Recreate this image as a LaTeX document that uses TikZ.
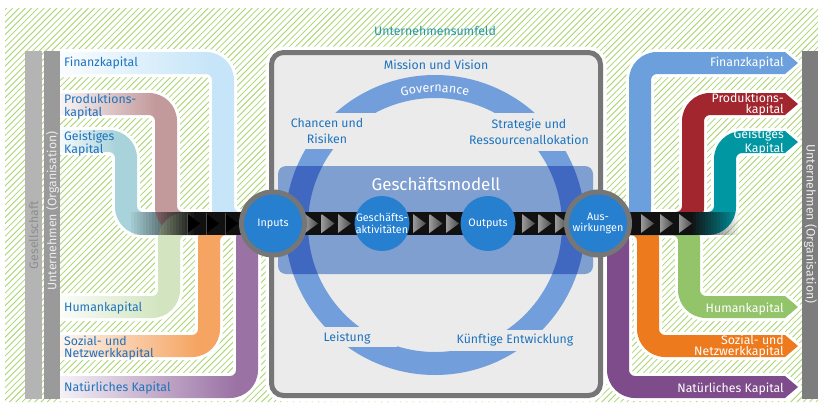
\documentclass[tikz,border=0pt]{standalone}
\usepackage{fontspec}
\setmainfont{Fira Sans}
\usetikzlibrary{decorations.text}
\definecolor{hatch}{HTML}{A9D46E}
\definecolor{lblue}{HTML}{1E73BE}
\definecolor{umfeld}{HTML}{2596AD}
\definecolor{boxgray}{HTML}{767676}
\definecolor{boxbg}{HTML}{EBEBEB}
\definecolor{barA}{HTML}{B4B4B4}
\definecolor{barB}{HTML}{9A9A9A}
\definecolor{barC}{HTML}{7D7D7D}
\definecolor{barAtext}{HTML}{8E8E8E}
\definecolor{bartext}{HTML}{ECECEC}
\definecolor{ringc}{HTML}{729FDC}
\definecolor{rectc}{HTML}{7F9FD0}
\definecolor{overc}{HTML}{4068C0}
\definecolor{circc}{HTML}{2680CF}
\definecolor{flowc}{HTML}{111111}
\definecolor{triA}{HTML}{9A9A9A}
\definecolor{triB}{HTML}{4A4A4A}
\definecolor{LFin}{HTML}{C6E5F8}
\definecolor{LPro}{HTML}{C39A9C}
\definecolor{LGei}{HTML}{A9D3DA}
\definecolor{LHum}{HTML}{D2E5C0}
\definecolor{LSoz}{HTML}{F5A462}
\definecolor{LNat}{HTML}{9A72A4}
\definecolor{RFin}{HTML}{6CA0DC}
\definecolor{RPro}{HTML}{A1262D}
\definecolor{RGei}{HTML}{0097A3}
\definecolor{RHum}{HTML}{93C46A}
\definecolor{RSoz}{HTML}{EE7A1E}
\definecolor{RNat}{HTML}{7E4C8B}
% pipe outlines: #1 = left x of vertical part, #2 = top y of arm
\newcommand\LTpath[2]{(60,#2) -- ({#1+22-28},#2) arc[start angle=270,end angle=360,radius=28] -- ({#1+22},206) arc[start angle=180,end angle=90,radius=6] -- (270,212) -- (270,235) -- ({#1+28},235) arc[start angle=90,end angle=180,radius=28] -- (#1,{#2+28}) arc[start angle=0,end angle=-90,radius=6] -- (60,{#2+22}) -- cycle}
\newcommand\LBpath[2]{(60,{#2+22}) -- ({#1+22-28},{#2+22}) arc[start angle=90,end angle=0,radius=28] -- ({#1+22},241) arc[start angle=180,end angle=270,radius=6] -- (270,235) -- (270,212) -- ({#1+28},212) arc[start angle=270,end angle=180,radius=28] -- (#1,{#2-6}) arc[start angle=0,end angle=90,radius=6] -- (60,#2) -- cycle}
\newcommand\RTpath[2]{(595,235) -- ({#1+22-28},235) arc[start angle=90,end angle=0,radius=28] -- ({#1+22},{#2+28}) arc[start angle=180,end angle=270,radius=6] -- (785,{#2+22}) -- (798,{#2+11}) -- (785,#2) -- ({#1+28},#2) arc[start angle=270,end angle=180,radius=28] -- (#1,206) arc[start angle=0,end angle=90,radius=6] -- (595,212) -- cycle}
\newcommand\RBpath[2]{(595,212) -- ({#1+22-28},212) arc[start angle=270,end angle=360,radius=28] -- ({#1+22},{#2-6}) arc[start angle=180,end angle=90,radius=6] -- (785,#2) -- (798,{#2+11}) -- (785,{#2+22}) -- ({#1+28},{#2+22}) arc[start angle=90,end angle=180,radius=28] -- (#1,241) arc[start angle=0,end angle=-90,radius=6] -- (595,235) -- cycle}
\newcommand\LTfill[3]{\begin{scope}\clip \LTpath{#1}{#2}; \shade[left color=#3!10, right color=#3] (60,0) rectangle (#1,402); \fill[#3] (#1,0) rectangle (280,402);\end{scope}}
\newcommand\LBfill[3]{\begin{scope}\clip \LBpath{#1}{#2}; \shade[left color=#3!10, right color=#3] (60,0) rectangle (#1,402); \fill[#3] (#1,0) rectangle (280,402);\end{scope}}
\begin{document}
\begin{tikzpicture}[x=1pt,y=-1pt,
  lbl/.style={font=\fontsize{12.3}{12.5}\selectfont, text=lblue, inner sep=0, align=left, anchor=west},
  rlbl/.style={font=\fontsize{12.3}{11}\selectfont, text=white, inner sep=0, align=right, anchor=east},
  clbl/.style={font=\fontsize{12.3}{15.5}\selectfont, text=lblue, inner sep=0, align=center},
  ctext/.style={font=\fontsize{10.8}{11.5}\selectfont, text=white, align=center, inner sep=0},
  bigc/.style={circle, fill=circc, minimum size=58, inner sep=0},
  smallc/.style={circle, fill=circc, minimum size=55, inner sep=0},
  bartxt/.style={font=\fontsize{12.3}{12}\selectfont, inner sep=0},
  whiteout/.style={draw=white, line width=6},
  lefttri/.style={fill=black},
  flowtri/.style={left color=triA, right color=triB}]
\useasboundingbox (0,0) rectangle (818,402);
\fill[white] (0,0) rectangle (818,402);
% hatched surroundings
\begin{scope}
  \clip (5,8) rectangle (818,402);
  \foreach \i in {-400,-393.7,...,820} \draw[hatch, line width=0.8] (\i,402) -- ++(394,-394);
\end{scope}
\node[font=\fontsize{12.3}{12}\selectfont, text=umfeld] (umf) at (435,31) {Unternehmensumfeld};
% white outlines of pipes
\foreach \a/\b in {212/52,155/93,115/130} \draw[whiteout] \LTpath{\a}{\b};
\foreach \a/\b in {158/296,198/335,236/376} \draw[whiteout] \LBpath{\a}{\b};
\foreach \a/\b in {629/52,682/93,714/131} \draw[whiteout] \RTpath{\a}{\b};
\foreach \a/\b in {678/296,637/335,607/376} \draw[whiteout] \RBpath{\a}{\b};
% input pipes
\LTfill{115}{130}{LGei}
\LTfill{155}{93}{LPro}
\LTfill{212}{52}{LFin}
\LBfill{158}{296}{LHum}
\LBfill{198}{335}{LSoz}
\LBfill{236}{376}{LNat}
% outcome pipes
\fill[RNat] \RBpath{607}{376};
\fill[RSoz] \RBpath{637}{335};
\fill[RHum] \RBpath{678}{296};
\fill[RFin] \RTpath{629}{52};
\fill[RPro] \RTpath{682}{93};
\fill[RGei] \RTpath{714}{131};
% bars
\fill[barA] (25,51) rectangle (42,399);
\fill[barB] (44,51) rectangle (60,399);
\fill[barC] (802,51) rectangle (818,399);
\node[bartxt, rotate=90, text=barAtext] (ges) at (33.5,235) {Gesellschaft};
\node[bartxt, rotate=90, text=bartext] (untl) at (52.5,211) {Unternehmen (Organisation)};
\node[bartxt, rotate=-90, text=bartext] (untr) at (810.5,224) {Unternehmen (Organisation)};
% labels of pipes
\node[lbl] (lfin) at (64,63.5) {Finanzkapital};
\node[lbl] (lpro) at (64,106.5) {Produktions-\\kapital};
\node[lbl] (lgei) at (64,143.5) {Geistiges\\Kapital};
\node[lbl] (lhum) at (64,308) {Humankapital};
\node[lbl] (lsoz) at (64,348) {Sozial- und\\Netzwerkkapital};
\node[lbl] (lnat) at (64,388.5) {Natürliches Kapital};
\node[rlbl] (rfin) at (784,63.5) {Finanzkapital};
\node[rlbl] (rpro) at (784,104.5) {Produktions-\\kapital};
\node[rlbl] (rgei) at (784,142) {Geistiges\\Kapital};
\node[rlbl] (rhum) at (784,309) {Humankapital};
\node[rlbl] (rsoz) at (784,347) {Sozial- und\\Netzwerkkapital};
\node[rlbl] (rnat) at (784,389) {Natürliches Kapital};
% dark collecting bands with fading
\foreach \i [evaluate=\i as \op using \i/22] in {0,...,21} \fill[flowc, opacity=\op] ({128+\i*3},212) rectangle ++(3.3,23);
\fill[flowc] (194,212) rectangle (272,235);
\fill[flowc] (598,212) rectangle (690,235);
\foreach \i [evaluate=\i as \op using 1-\i/16] in {0,...,15} \fill[flowc, opacity=\op] ({690+\i*3},212) rectangle ++(3.3,23);
\foreach \x in {187,206,225} {\fill[lefttri] (\x,213.5) -- ({\x+13},223.5) -- (\x,233.5) -- cycle; \draw[triB, line width=0.8] (\x,212.5) -- (\x,234.5);}
\foreach \x in {641,660,679} \shade[flowtri] (\x,214) -- ({\x+13},223.5) -- (\x,233) -- cycle;
% central box
\draw[white, line width=12, rounded corners=12] (271.5,52.5) rectangle (600.5,395.5);
\draw[boxgray, line width=5, fill=boxbg, rounded corners=12] (271.5,52.5) rectangle (600.5,395.5);
% ring
\fill[ringc, even odd rule] (435,225) circle[radius=150] (435,225) circle[radius=127];
\fill[boxbg] (283,113) rectangle (378,149);
\fill[boxbg] (486,113) rectangle (594,151);
\fill[boxbg] (298,327) rectangle (397,347);
\fill[boxbg] (448,330) rectangle (590,351);
\path[decorate, decoration={text along path, text={|\fontsize{12.5}{12.5}\selectfont\color{white}|Governance}, text align=center}] (435,225) ++(228:133) arc[start angle=228, end angle=312, radius=133];
% business model
\fill[rectc, rounded corners=8] (278,166) rectangle (593,274);
\begin{scope}
  \clip[rounded corners=8] (278,166) rectangle (593,274);
  \fill[overc, even odd rule] (435,225) circle[radius=150] (435,225) circle[radius=127];
\end{scope}
\node[font=\fontsize{17}{17}\selectfont, text=white] (gm) at (436,184) {Geschäftsmodell};
\node[clbl] (mis) at (436,65) {Mission und Vision};
\node[clbl] (cha) at (327,131) {Chancen und\\Risiken};
\node[clbl] (str) at (529,132) {Strategie und\\Ressourcenallokation};
\node[clbl] (lei) at (347,338) {Leistung};
\node[clbl] (kue) at (515,340) {Künftige Entwicklung};
% value creation flow
\coordinate (pin) at (273,223.5);
\coordinate (pga) at (382,223.5);
\coordinate (pout) at (488,223.5);
\coordinate (paus) at (598,223.5);
\fill[flowc] (pin) ++(0,-11.5) rectangle ++(325,23);
\foreach \x in {305,321.5,338,413,429.5,446,522,538.5,555} \shade[flowtri] (\x,214) -- ({\x+13},223.5) -- (\x,233) -- cycle;
\fill[boxgray] (pin) circle[radius=34];
\fill[boxgray] (paus) circle[radius=34];
\node[bigc] (inp) at (pin) {};
\node[ctext] at (inp) {Inputs};
\node[smallc] (ga) at (pga) {};
\node[ctext] at (ga) {Geschäfts-\\aktivitäten};
\node[smallc] (out) at (pout) {};
\node[ctext] at (out) {Outputs};
\node[bigc] (aus) at (paus) {};
\node[ctext] at (aus) {Aus-\\wirkungen};
\end{tikzpicture}
\end{document}
